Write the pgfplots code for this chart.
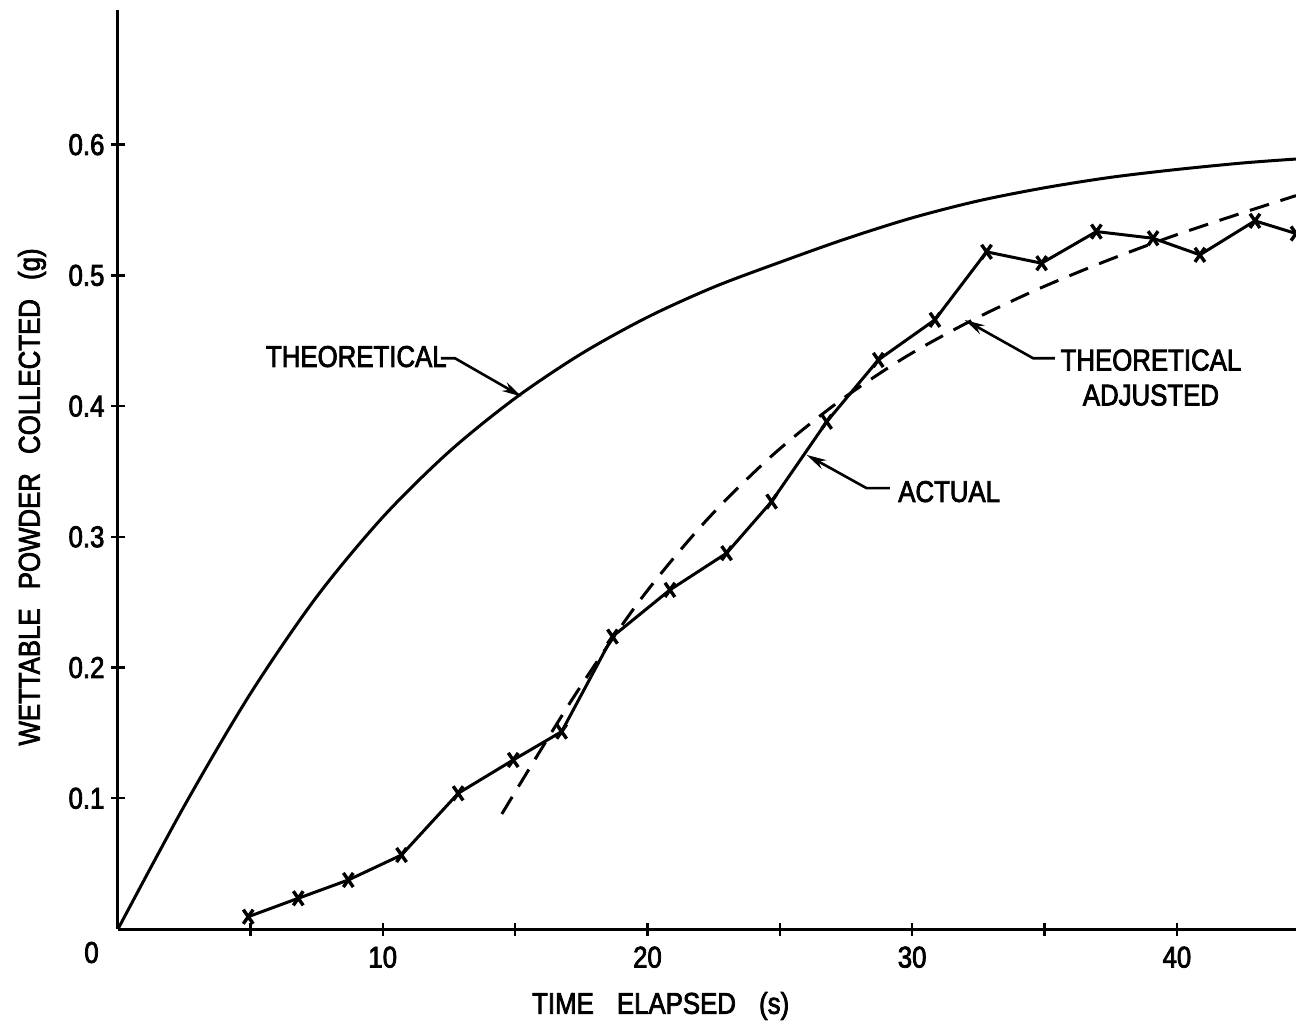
\documentclass[border=0pt]{standalone}
\usepackage{pgfplots}
\pgfplotsset{compat=1.18}
\usetikzlibrary{arrows.meta}
\usepackage{fontspec}
\setmainfont{Liberation Sans}[FakeStretch=0.86, FakeBold=2.5]
\newcommand\lf{\fontsize{15}{17.5}\selectfont}
\begin{document}
\begin{tikzpicture}
\useasboundingbox (-59pt,-47.5pt) rectangle (589pt,464.5pt);
\begin{axis}[
  scale only axis,
  width=589pt, height=459.5pt,
  xmin=0, xmax=44.5, ymin=0, ymax=0.703,
  axis x line*=bottom, axis y line*=left,
  axis line style={line width=1.5pt},
  clip=false,
  xtick={5,10,...,40},
  xticklabels={,10,,20,,30,,40},
  ytick={0.1,0.2,...,0.6},
  yticklabels={0.1,0.2,0.3,0.4,0.5,0.6},
  tick align=center,
  major tick length=6.5pt,
  tick style={line width=1.2pt, black},
  /pgf/number format/assume math mode=true,
  every tick label/.append style={font=\lf},
  xticklabel style={yshift=-2pt},
]
% theoretical
\addplot[line width=1.5pt, smooth] coordinates {
 (0,0) (2.5,0.094) (5,0.180) (7.5,0.254) (10,0.315) (12.5,0.365) (15,0.406)
 (17.5,0.440) (20,0.468) (22.5,0.491) (25,0.510) (27.5,0.528) (30,0.544)
 (32.5,0.557) (35,0.567) (37.5,0.575) (40,0.581) (42.5,0.586) (44.5,0.589)};
% theoretical adjusted
\addplot[line width=1.5pt, smooth, dash pattern=on 10pt off 6pt] coordinates {
 (14.5,0.088) (17.2,0.177) (19.7,0.251) (22.2,0.312) (24.7,0.362) (27.2,0.403)
 (29.7,0.437) (32.2,0.465) (34.7,0.489) (37.2,0.510) (39.7,0.529) (42.2,0.546) (44.5,0.561)};
% actual
\addplot[line width=1.5pt, mark=x, mark size=5pt, mark options={line width=1.7pt, xscale=0.7, yscale=1.0}] coordinates {
 (4.92,0.0094) (6.81,0.0235) (8.70,0.0375) (10.71,0.0566) (12.85,0.1038) (14.93,0.1293)
 (16.76,0.151) (18.68,0.2237) (20.85,0.2594) (22.99,0.2875) (24.69,0.327) (26.77,0.388)
 (28.72,0.4353) (30.86,0.466) (32.81,0.518) (34.89,0.5093) (36.96,0.5335) (39.1,0.5284)
 (40.87,0.5157) (42.95,0.5417) (44.5,0.532)};

% labels
\node[font=\lf] at (axis cs:-1.0,-0.018) {0};
\node[font=\lf, rotate=90] at (axis cs:-3.25,0.3305) {WETTABLE\hspace{6pt} POWDER\hspace{6pt} COLLECTED\hspace{6pt} (g)};
\node[font=\lf] at (axis cs:20.5,-0.0589) {TIME\hspace{8pt} ELAPSED\hspace{8pt} (s)};

% annotations
\node[font=\lf, anchor=east, inner sep=0pt] at (axis cs:12.43,0.4379) {THEORETICAL};
\draw[line width=1.3pt, -{Stealth[length=10pt,width=5pt]}] (axis cs:12.2,0.4366) -- (axis cs:12.73,0.4366) -- (axis cs:15.25,0.4073);

\node[font=\lf, anchor=west, inner sep=0pt] at (axis cs:29.46,0.3346) {ACTUAL};
\draw[line width=1.3pt, -{Stealth[length=10pt,width=5pt]}] (axis cs:29.16,0.3372) -- (axis cs:28.28,0.3372) -- (axis cs:26.01,0.3627);

\node[font=\lf, align=center, inner sep=0pt] at (axis cs:39.02,0.4218) {THEORETICAL\\ADJUSTED};
\draw[line width=1.3pt, -{Stealth[length=10pt,width=5pt]}] (axis cs:35.39,0.4366) -- (axis cs:34.57,0.4366) -- (axis cs:31.99,0.4659);
\end{axis}
\end{tikzpicture}
\end{document}
